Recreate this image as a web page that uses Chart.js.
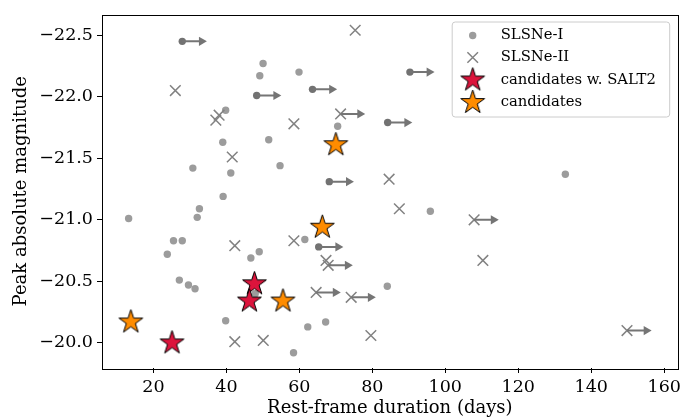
<!DOCTYPE html>
<html>
<head>
<meta charset="utf-8">
<script src="https://cdn.jsdelivr.net/npm/chart.js@4/dist/chart.umd.min.js"></script>
<style>
  html, body { margin: 0; padding: 0; background: #fff; }
  #wrap { width: 692px; height: 419px; }
</style>
</head>
<body>
<div id="wrap"><canvas id="c" width="692" height="419"></canvas></div>
<script>
// ---- data ----
const slsn1X = [50.05, 49.15, 59.9, 39.8, 39.0, 51.6, 30.8, 41.2, 54.7, 70.5, 132.9, 13.2, 32.6, 32.0, 39.1, 25.5, 27.9, 23.8, 49.0, 46.7, 27.1, 29.6, 31.4, 47.9, 39.8, 58.4, 95.9, 61.5, 84.1, 62.3, 67.2];
const slsn1Y = [-22.27, -22.17, -22.20, -21.89, -21.63, -21.65, -21.42, -21.38, -21.44, -21.76, -21.37, -21.01, -21.09, -21.02, -21.19, -20.83, -20.83, -20.72, -20.74, -20.69, -20.51, -20.47, -20.44, -20.40, -20.18, -19.92, -21.07, -20.84, -20.46, -20.13, -20.17];
// SLSNe-I lower limits on duration (drawn with arrows)
const slsn1LimX = [27.9, 48.3, 90.3, 63.6, 84.2, 68.2, 65.3];
const slsn1LimY = [-22.45, -22.01, -22.20, -22.06, -21.79, -21.31, -20.78];

const slsn2X = [75.3, 26.0, 38.0, 37.1, 58.5, 41.6, 42.3, 58.5, 84.6, 87.4, 67.3, 110.3, 79.6, 42.3, 50.1];
const slsn2Y = [-22.54, -22.05, -21.85, -21.81, -21.78, -21.51, -20.79, -20.83, -21.33, -21.09, -20.67, -20.67, -20.06, -20.01, -20.02];
// SLSNe-II lower limits on duration
const slsn2LimX = [71.3, 107.9, 67.9, 64.6, 74.2, 149.8];
const slsn2LimY = [-21.86, -21.00, -20.63, -20.41, -20.37, -20.10];

const salt2X = [47.7, 46.3, 25.1];
const salt2Y = [-20.48, -20.34, -20.00];

const candX = [70.0, 13.8, 55.5, 66.3];
const candY = [-21.61, -20.17, -20.34, -20.94];

const xTicksStep = 20;
const yTicksStep = 0.5;
const legendLabels = ['SLSNe-I', 'SLSNe-II', 'candidates w. SALT2', 'candidates'];

// ---- styles ----
const FONT = '"DejaVu Serif", "Liberation Serif", serif';
const C_CIRCLE = '#9c9c9c';
const C_CIRCLE_LIM = '#727272';
const C_CROSS = '#828282';
const C_ARROW = '#757575';
const ARROW_DAYS = 5.3; // shaft length in days to arrow-head centre

function pts(xs, ys) { return xs.map((x, i) => ({ x: x, y: ys[i] })); }

function makeStar(fill, R) {
  const s = Math.ceil(2 * R + 4);
  const c = document.createElement('canvas');
  c.width = s; c.height = s;
  const g = c.getContext('2d');
  const cx = s / 2, cy = s / 2;
  g.beginPath();
  for (let i = 0; i < 10; i++) {
    const r = i % 2 === 0 ? R : R * 0.382;
    const a = -Math.PI / 2 + i * Math.PI / 5;
    g.lineTo(cx + r * Math.cos(a), cy + r * Math.sin(a));
  }
  g.closePath();
  g.fillStyle = fill; g.fill();
  g.lineWidth = 1; g.strokeStyle = '#000'; g.stroke();
  return c;
}
const starRed = makeStar('#dc143c', 12.5);
const starOrange = makeStar('#ff8c00', 12.5);

const limits = pts(slsn1LimX, slsn1LimY).concat(pts(slsn2LimX, slsn2LimY));
const arrowData = [];
limits.forEach(p => {
  arrowData.push({ x: p.x, y: p.y });
  arrowData.push({ x: p.x + ARROW_DAYS, y: p.y });
  arrowData.push({ x: p.x, y: null });
});

// frame + legend plugin
const framePlugin = {
  id: 'frame',
  afterDraw(chart) {
    const { ctx, chartArea: a } = chart;
    ctx.save();
    ctx.strokeStyle = '#000'; ctx.lineWidth = 1;
    ctx.strokeRect(Math.round(a.left) + 0.5, Math.round(a.top) + 0.5,
                   Math.round(a.right - a.left), Math.round(a.bottom - a.top));
    // legend
    const bx = a.right - 226, by = a.top + 7, bw = 217.5, bh = 95;
    ctx.beginPath();
    ctx.roundRect(bx + 0.5, by + 0.5, bw, bh, 3);
    ctx.fillStyle = 'rgba(255,255,255,0.8)'; ctx.fill();
    ctx.strokeStyle = '#cccccc'; ctx.lineWidth = 1; ctx.stroke();
    const mx = bx + 21, tx = bx + 49;
    const rows = [by + 14, by + 36, by + 58.5, by + 81];
    // circle
    ctx.beginPath(); ctx.arc(mx, rows[0], 3.7, 0, Math.PI * 2);
    ctx.fillStyle = C_CIRCLE; ctx.fill();
    // cross
    ctx.beginPath();
    const d = 7.5 * Math.SQRT1_2;
    ctx.moveTo(mx - d, rows[1] - d); ctx.lineTo(mx + d, rows[1] + d);
    ctx.moveTo(mx - d, rows[1] + d); ctx.lineTo(mx + d, rows[1] - d);
    ctx.strokeStyle = C_CROSS; ctx.lineWidth = 1.5; ctx.stroke();
    ctx.drawImage(starRed, mx - starRed.width / 2, rows[2] - starRed.height / 2);
    ctx.drawImage(starOrange, mx - starOrange.width / 2, rows[3] - starOrange.height / 2);
    ctx.fillStyle = '#000';
    ctx.font = '14.8px ' + FONT;
    ctx.textBaseline = 'middle';
    legendLabels.forEach((t, i) => ctx.fillText(t, tx, rows[i]));
    ctx.restore();
  }
};

const minusFmt = v => (Math.round(v * 10) / 10).toFixed(1).replace('-', '\u2212');

new Chart(document.getElementById('c'), {
  type: 'scatter',
  data: {
    datasets: [
      {
        label: legendLabels[0],
        data: pts(slsn1X, slsn1Y),
        pointStyle: 'circle', pointRadius: 3.7, pointBorderWidth: 0,
        backgroundColor: C_CIRCLE, order: 6
      },
      {
        label: legendLabels[0] + ' (limit)',
        data: pts(slsn1LimX, slsn1LimY),
        pointStyle: 'circle', pointRadius: 3.7, pointBorderWidth: 0,
        backgroundColor: C_CIRCLE_LIM, order: 5
      },
      {
        label: legendLabels[1],
        data: pts(slsn2X, slsn2Y).concat(pts(slsn2LimX, slsn2LimY)),
        pointStyle: 'crossRot', pointRadius: 7.5, pointBorderWidth: 1.5,
        borderColor: C_CROSS, backgroundColor: C_CROSS, order: 4
      },
      {
        type: 'line',
        label: 'limits',
        data: arrowData,
        showLine: true, spanGaps: false,
        borderColor: C_ARROW, borderWidth: 2,
        backgroundColor: C_ARROW,
        pointStyle: 'triangle', rotation: 90,
        pointRadius: ctx => (ctx.index % 3 === 1 ? 5.3 : 0),
        pointHoverRadius: 0, pointBorderWidth: 0,
        order: 3
      },
      {
        label: legendLabels[2],
        data: pts(salt2X, salt2Y),
        pointStyle: starRed, order: 2
      },
      {
        label: legendLabels[3],
        data: pts(candX, candY),
        pointStyle: starOrange, order: 1
      }
    ]
  },
  options: {
    responsive: false,
    animation: false,
    events: [],
    layout: { padding: { left: 0, top: 12.5, right: 14.3, bottom: 0 } },
    plugins: { legend: { display: false }, tooltip: { enabled: false } },
    scales: {
      x: {
        type: 'linear', min: 5.9, max: 163.7,
        afterFit(s) { s.height = 51; },
        border: { display: false },
        grid: { display: true, drawOnChartArea: false, drawTicks: true, tickLength: 5, tickColor: '#000', tickWidth: 1 },
        ticks: { stepSize: xTicksStep, includeBounds: false, color: '#000', padding: 4, maxRotation: 0,
                 font: { family: FONT, size: 17.5 } },
        title: { display: true, text: 'Rest-frame duration (days)', color: '#000',
                 font: { family: FONT, size: 18 }, padding: { top: 0, bottom: 0 } }
      },
      y: {
        type: 'linear', reverse: true, min: -22.668, max: -19.796,
        afterFit(s) { s.width = 102; },
        border: { display: false },
        grid: { display: true, drawOnChartArea: false, drawTicks: true, tickLength: 5, tickColor: '#000', tickWidth: 1 },
        ticks: { stepSize: yTicksStep, includeBounds: false, color: '#000', padding: 4,
                 font: { family: FONT, size: 17.5 }, callback: v => minusFmt(v) },
        title: { display: true, text: 'Peak absolute magnitude', color: '#000',
                 font: { family: FONT, size: 18 }, padding: { top: 11, bottom: 0 } }
      }
    }
  },
  plugins: [framePlugin]
});
</script>
</body>
</html>
